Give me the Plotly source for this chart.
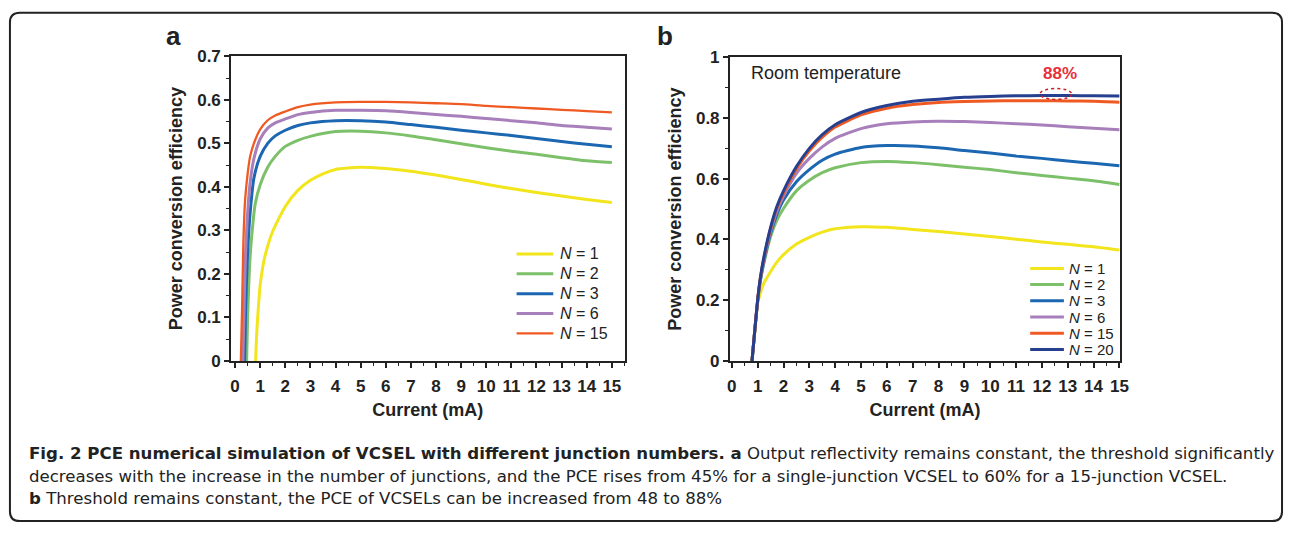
import plotly.graph_objects as go

# ---------------- data: panel a (output reflectivity constant) ----------------
A_N1_X = [0.82, 0.85, 0.9, 1.0, 1.1, 1.2, 1.5, 2.0, 2.5, 3.0, 3.5, 4.0, 5, 6, 7, 8, 9, 10, 11, 12, 13, 14, 15]
A_N1_Y = [0, 0.05, 0.1, 0.175, 0.215, 0.243, 0.298, 0.355, 0.392, 0.415, 0.43, 0.44, 0.445, 0.442, 0.436, 0.427, 0.417, 0.406, 0.396, 0.387, 0.379, 0.371, 0.364]

A_N2_X = [0.46, 0.5, 0.6, 0.7, 0.8, 1.0, 1.3, 1.6, 2.0, 2.5, 3, 4, 5, 6, 7, 8, 9, 10, 11, 12, 13, 14, 15]
A_N2_Y = [0, 0.1, 0.24, 0.31, 0.36, 0.405, 0.445, 0.47, 0.493, 0.507, 0.516, 0.527, 0.528, 0.524, 0.517, 0.508, 0.499, 0.49, 0.482, 0.475, 0.467, 0.46, 0.456]

A_N3_X = [0.38, 0.42, 0.5, 0.6, 0.75, 1.0, 1.3, 1.6, 2.0, 2.5, 3, 4, 5, 6, 7, 8, 9, 10, 11, 12, 13, 14, 15]
A_N3_Y = [0, 0.12, 0.25, 0.34, 0.42, 0.47, 0.5, 0.517, 0.53, 0.541, 0.547, 0.552, 0.552, 0.549, 0.543, 0.537, 0.53, 0.524, 0.518, 0.511, 0.504, 0.498, 0.492]

A_N6_X = [0.31, 0.36, 0.42, 0.5, 0.6, 0.75, 1.0, 1.3, 1.6, 2.0, 2.5, 3, 4, 5, 6, 7, 8, 9, 10, 11, 12, 13, 14, 15]
A_N6_Y = [0, 0.12, 0.25, 0.34, 0.41, 0.465, 0.51, 0.535, 0.547, 0.556, 0.566, 0.571, 0.576, 0.576, 0.575, 0.571, 0.566, 0.562, 0.557, 0.552, 0.547, 0.541, 0.537, 0.533]

A_N15_X = [0.23, 0.28, 0.33, 0.4, 0.5, 0.6, 0.75, 1.0, 1.3, 1.6, 2.0, 2.5, 3, 4, 5, 6, 7, 8, 9, 10, 11, 12, 13, 14, 15]
A_N15_Y = [0, 0.12, 0.27, 0.37, 0.43, 0.47, 0.5, 0.532, 0.553, 0.564, 0.573, 0.583, 0.589, 0.594, 0.595, 0.595, 0.594, 0.592, 0.59, 0.586, 0.583, 0.58, 0.577, 0.574, 0.571]

# ---------------- data: panel b (threshold constant) ----------------
B_X = [0.78, 0.85, 0.92, 1.0, 1.1, 1.25, 1.5, 1.75, 2.0, 2.5, 3, 3.5, 4, 5, 6, 7, 8, 9, 10, 11, 12, 13, 14, 15]
B_N1 = [0, 0.06, 0.125, 0.19, 0.222, 0.258, 0.294, 0.326, 0.35, 0.385, 0.407, 0.424, 0.435, 0.442, 0.44, 0.433, 0.426, 0.418, 0.41, 0.401, 0.392, 0.384, 0.376, 0.365]
B_N2 = [0, 0.065, 0.13, 0.196, 0.26, 0.325, 0.41, 0.465, 0.502, 0.56, 0.595, 0.62, 0.636, 0.653, 0.657, 0.653, 0.646, 0.638, 0.63, 0.62, 0.611, 0.602, 0.593, 0.581]
B_N3 = [0, 0.065, 0.13, 0.198, 0.264, 0.332, 0.42, 0.484, 0.53, 0.59, 0.63, 0.661, 0.681, 0.703, 0.709, 0.708, 0.702, 0.693, 0.685, 0.675, 0.667, 0.658, 0.651, 0.643]
B_N6 = [0, 0.065, 0.13, 0.2, 0.267, 0.337, 0.428, 0.495, 0.543, 0.618, 0.667, 0.705, 0.733, 0.765, 0.781, 0.787, 0.789, 0.788, 0.785, 0.781, 0.777, 0.771, 0.766, 0.761]
B_N15 = [0, 0.065, 0.13, 0.201, 0.27, 0.342, 0.435, 0.505, 0.553, 0.633, 0.692, 0.737, 0.77, 0.81, 0.832, 0.844, 0.851, 0.854, 0.856, 0.857, 0.857, 0.856, 0.855, 0.852]
B_N20 = [0, 0.065, 0.13, 0.202, 0.272, 0.346, 0.44, 0.51, 0.56, 0.64, 0.70, 0.745, 0.778, 0.818, 0.841, 0.855, 0.862, 0.868, 0.871, 0.873, 0.874, 0.874, 0.873, 0.872]

LABELS_A = ["N = 1", "N = 2", "N = 3", "N = 6", "N = 15"]
LABELS_B = ["N = 1", "N = 2", "N = 3", "N = 6", "N = 15", "N = 20"]
X_TICKS = list(range(0, 16))
COLORS = ["#f2e51c", "#7dc06a", "#1c67b1", "#a77fbb", "#ef5a23", "#26408f"]

CAPTION = [
    "<b>Fig. 2 PCE numerical simulation of VCSEL with different junction numbers. a</b> Output reflectivity remains constant, the threshold significantly",
    "decreases with the increase in the number of junctions, and the PCE rises from 45% for a single-junction VCSEL to 60% for a 15-junction VCSEL.",
    "<b>b</b> Threshold remains constant, the PCE of VCSELs can be increased from 48 to 88%",
]

W, H = 1293, 533
FONT = "Liberation Sans, Arial, Helvetica, sans-serif"
INK = "#222"


def lab(s):
    return s.replace("N", "<i>N</i>", 1)


def px(x):
    return x / W


def py(y):
    return 1 - y / H


fig = go.Figure()

series_a = [(A_N1_X, A_N1_Y), (A_N2_X, A_N2_Y), (A_N3_X, A_N3_Y), (A_N6_X, A_N6_Y), (A_N15_X, A_N15_Y)]
widths_a = [3, 3, 3, 3, 2.3]
for (xs, ys), name, col, lw in zip(series_a, LABELS_A, COLORS, widths_a):
    fig.add_trace(go.Scatter(x=xs, y=ys, mode="lines", name=lab(name), showlegend=False,
                             line=dict(color=col, width=lw, shape="spline", smoothing=0.6),
                             xaxis="x", yaxis="y"))

series_b = [B_N1, B_N2, B_N3, B_N6, B_N15, B_N20]
widths_b = [3, 3, 3, 3, 3, 3]
for ys, name, col, lw in zip(series_b, LABELS_B, COLORS, widths_b):
    fig.add_trace(go.Scatter(x=B_X, y=ys, mode="lines", name=lab(name), showlegend=False,
                             line=dict(color=col, width=lw, shape="spline", smoothing=0.6),
                             xaxis="x2", yaxis="y2"))

tickfont = dict(family=FONT, size=17, color=INK, weight="bold")
titlefont = dict(family=FONT, size=18, color=INK, weight="bold")


def xax(domain, rng, anchor):
    return dict(domain=domain, range=rng, anchor=anchor, tickvals=X_TICKS,
                ticks="outside", ticklen=5, tickwidth=1.5, tickcolor=INK, ticklabelstandoff=4,
                minor=dict(dtick=0.5, tick0=0, ticks="outside", ticklen=3, tickwidth=1.2, tickcolor=INK, showgrid=False),
                showline=True, linewidth=1.6, linecolor=INK, mirror=True,
                showgrid=False, zeroline=False, tickfont=tickfont,
                title=dict(text="Current (mA)", font=titlefont, standoff=8))


def yax(domain, rng, anchor, dtick, minor):
    return dict(domain=domain, range=rng, anchor=anchor, dtick=dtick, tick0=0,
                ticks="outside", ticklen=5, tickwidth=1.5, tickcolor=INK,
                minor=dict(dtick=minor, tick0=0, ticks="outside", ticklen=3, tickwidth=1.2, tickcolor=INK, showgrid=False),
                showline=True, linewidth=1.6, linecolor=INK, mirror=True,
                showgrid=False, zeroline=False, tickfont=tickfont,
                title=dict(text="Power conversion efficiency", font=titlefont, standoff=10))


fig.update_layout(
    width=W, height=H, margin=dict(l=0, r=0, t=0, b=0),
    paper_bgcolor="white", plot_bgcolor="white",
    font=dict(family=FONT, color=INK),
    xaxis=xax([px(230), px(627)], [-0.16, 15.51], "y"),
    yaxis=yax([py(365), py(49)], [0, 0.7], "x", 0.1, 0.05),
    xaxis2=xax([px(733), px(1127)], [-0.08, 15.04], "y2"),
    yaxis2=yax([py(365), py(50)], [0, 1.0], "x2", 0.2, 0.1),
    showlegend=False,
)


# legends (line sample + label), one block per panel
def add_legend(labels, colors, widths, x_line0, x_line1, x_text, y_first, dy, size):
    for i, (name, col, lw) in enumerate(zip(labels, colors, widths)):
        yy = y_first + dy * i
        fig.add_shape(type="line", xref="paper", yref="paper", x0=px(x_line0), x1=px(x_line1),
                      y0=py(yy), y1=py(yy), line=dict(color=col, width=lw))
        fig.add_annotation(text=lab(name), x=px(x_text), y=py(yy), xref="paper", yref="paper",
                           showarrow=False, xanchor="left", yanchor="middle",
                           font=dict(family=FONT, size=size, color=INK))


add_legend(LABELS_A, COLORS, widths_a, 518, 555, 560, 254, 20.6, 16)
add_legend(LABELS_B, COLORS, widths_b, 1036, 1070, 1073, 269, 16.8, 15)

# panel letters
for letter, xl in (("a", 172), ("b", 668)):
    fig.add_annotation(text=f"<b>{letter}</b>", x=px(xl), y=py(28), xref="paper", yref="paper",
                       showarrow=False, font=dict(family=FONT, size=26, color=INK),
                       xanchor="center", yanchor="middle")

# panel b annotations
fig.add_annotation(text="Room temperature", x=0.68, y=0.947, xref="x2", yref="y2", showarrow=False,
                   xanchor="left", yanchor="middle", font=dict(family=FONT, size=18, color=INK))
fig.add_annotation(text="<b>88%</b>", x=12.72, y=0.948, xref="x2", yref="y2", showarrow=False,
                   xanchor="center", yanchor="middle", font=dict(family=FONT, size=17, color="#e8303a"))
fig.add_shape(type="circle", xref="x2", yref="y2", x0=11.93, x1=13.15, y0=0.861, y1=0.897,
              line=dict(color="#c8202a", width=1.5, dash="dot"))

# caption
for i, line in enumerate(CAPTION):
    fig.add_annotation(text=line, x=px(24), y=py(461 + 23.5 * i), xref="paper", yref="paper",
                       showarrow=False, xanchor="left", yanchor="middle", align="left",
                       font=dict(family="DejaVu Sans, sans-serif", size=16.6, color=INK))

# rounded frame
x0, x1 = px(7), px(1290)
y0, y1 = py(531), py(4)
rx, ry = 10 / W, 10 / H
path = (f"M {x0 + rx},{y1} L {x1 - rx},{y1} Q {x1},{y1} {x1},{y1 - ry} "
        f"L {x1},{y0 + ry} Q {x1},{y0} {x1 - rx},{y0} L {x0 + rx},{y0} "
        f"Q {x0},{y0} {x0},{y0 + ry} L {x0},{y1 - ry} Q {x0},{y1} {x0 + rx},{y1} Z")
fig.add_shape(type="path", path=path, xref="paper", yref="paper",
              line=dict(color=INK, width=2))

fig.write_html("out.html")
